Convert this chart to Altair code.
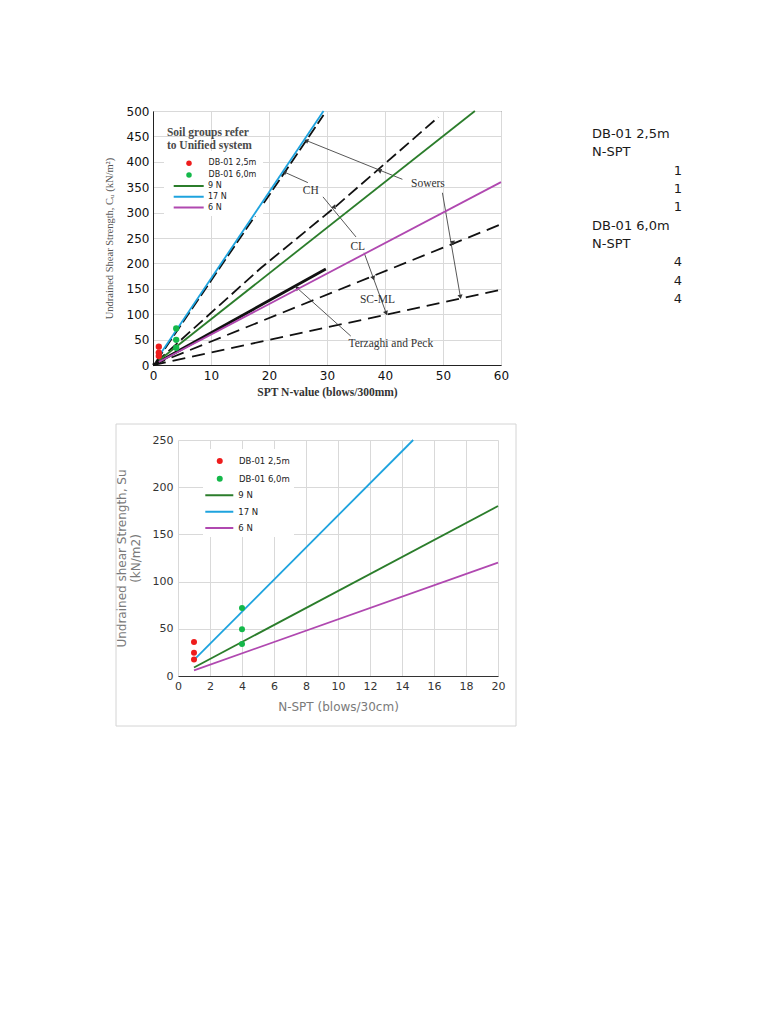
import math
import altair as alt
import pandas as pd

# ---------------- data ----------------
sample_names = ["DB-01 2,5m", "DB-01 6,0m"]
sample_colors = ["#ee1c1c", "#14b84a"]
nspt_25 = [1, 1, 1]
su_25 = [36, 24.5, 17.5]
nspt_60 = [4, 4, 4]
su_60 = [72, 49.5, 34]

series_names = ["9 N", "17 N", "6 N"]
series_colors = ["#2b7d2b", "#1ea3de", "#b048b0"]
# correlation lines: start / end points
top_line_n = [[1, 55.5], [1, 29.4], [1, 60]]
top_line_su = [[9, 500], [17, 500], [6, 360]]
bot_line_n = [[1, 20], [1, 14.7], [1, 20]]
bot_line_su = [[9, 180], [17, 250], [6, 120]]

# scanned Sowers / Terzaghi & Peck reference lines
ref_names = ["CH", "CL", "SC-ML upper", "SC-ML lower"]
ref_n = [[0.5, 29.4], [0.5, 18.6, 31.3, 49.2], [0, 60], [0, 60]]
ref_su = [[6, 492], [5, 191, 310, 488], [0, 277], [0, 148]]
tp_n = [0, 29.8]
tp_su = [0, 189]

# annotation labels
ann_text = ["CH", "CL", "SC-ML", "Sowers", "Terzaghi and Peck"]
ann_n = [27.2, 35.3, 38.7, 47.4, 41.0]
ann_su = [342, 232, 127, 356, 41]
note_lines = ["Soil groups refer", "to Unified system"]
note_n = [2.4, 2.4]
note_su = [457, 431]

# annotation arrows (tail -> head)
arrow_tail_n = [43.0, 26.7, 29.3, 36.4, 49.9, 34.1]
arrow_tail_su = [365.5, 359, 331, 221, 339, 57]
arrow_head_n = [26.4, 22.6, 35.0, 40.2, 53.0, 24.8]
arrow_head_su = [442, 380, 252, 102, 134, 152]
head_arrow = [0, 0, 1, 2, 3, 3, 4, 4, 5]
head_n = [26.4, 39.0, 22.6, 31.3, 38.0, 40.2, 51.7, 53.0, 24.8]
head_su = [442, 383, 380, 310, 171, 102, 240, 134, 152]

# right-hand table
panel_groups = ["DB-01 2,5m", "DB-01 6,0m"]
panel_header = "N-SPT"
panel_values = [nspt_25, nspt_60]

# ---------------- sizes ----------------
TW, TH = 348, 254      # top plot
BW, BH = 320, 236      # bottom plot
TXMAX, TYMAX = 60, 500

# ---------------- tables ----------------
pts = pd.DataFrame({
    "N": nspt_25 + nspt_60,
    "Su": su_25 + su_60,
    "sample": [sample_names[0]] * len(nspt_25) + [sample_names[1]] * len(nspt_60),
})

def line_table(ns, sus):
    rows = []
    for name, nn, ss in zip(series_names, ns, sus):
        for i, (a, b) in enumerate(zip(nn, ss)):
            rows.append({"series": name, "N": a, "Su": b, "o": i})
    return pd.DataFrame(rows)

top_lines = line_table(top_line_n, top_line_su)
bot_lines = line_table(bot_line_n, bot_line_su)

ref_rows = []
for name, nn, ss in zip(ref_names, ref_n, ref_su):
    for i, (a, b) in enumerate(zip(nn, ss)):
        ref_rows.append({"name": name, "N": a, "Su": b, "o": i})
ref_df = pd.DataFrame(ref_rows)
tp_df = pd.DataFrame({"N": tp_n, "Su": tp_su})

ann_df = pd.DataFrame({"t": ann_text, "N": ann_n, "Su": ann_su})
note_df = pd.DataFrame({"t": note_lines, "N": note_n, "Su": note_su})
arrow_df = pd.DataFrame({"N": arrow_tail_n, "Su": arrow_tail_su,
                         "N2": arrow_head_n, "Su2": arrow_head_su})

sx, sy = TW / TXMAX, TH / TYMAX
angles = []
for k in head_arrow:
    dx = (arrow_head_n[k] - arrow_tail_n[k]) * sx
    up = (arrow_head_su[k] - arrow_tail_su[k]) * sy
    angles.append(math.degrees(math.atan2(dx, up)) % 360)
head_df = pd.DataFrame({"N": head_n, "Su": head_su, "ang": angles})

one = pd.DataFrame({"v": [0]})

def anchor(x, y):
    # 1px white layout anchor outside the plot
    return alt.Chart(one).mark_rect(color="white").encode(
        x=alt.value(x), x2=alt.value(x + 1), y=alt.value(y), y2=alt.value(y + 1))

# ---------------- top (scanned chart) ----------------
tx_axis = alt.Axis(values=list(range(0, 61, 10)), title="SPT N-value (blows/300mm)",
                   labelFont="DejaVu Sans", labelFontSize=12, labelColor="#111",
                   labelPadding=5, ticks=False, domainColor="#222", gridColor="#d9d9d9",
                   titleFont="Liberation Serif", titleFontSize=11.5, titleFontWeight="bold",
                   titleColor="#333", titlePadding=5, labelFlush=False, labelOverlap=False)
ty_axis = alt.Axis(values=list(range(0, 501, 50)), title="Undrained Shear Strength, Cᵤ (kN/m²)",
                   labelFont="DejaVu Sans", labelFontSize=12, labelColor="#111",
                   labelPadding=4, ticks=False, domainColor="#222", gridColor="#d9d9d9",
                   titleFont="Liberation Serif", titleFontSize=10.5, titleFontWeight="normal",
                   titleColor="#555", titlePadding=12, labelOverlap=False)

def tx(field="N"):
    return alt.X(f"{field}:Q", scale=alt.Scale(domain=[0, TXMAX], nice=False), axis=tx_axis)

def ty(field="Su"):
    return alt.Y(f"{field}:Q", scale=alt.Scale(domain=[0, TYMAX], nice=False), axis=ty_axis)

ref_layer = alt.Chart(ref_df).mark_line(color="#111", strokeWidth=1.8).encode(
    x=tx(), y=ty(), detail="name:N", order="o:Q",
    strokeDash=alt.StrokeDash("name:N", scale=alt.Scale(domain=ref_names,
                              range=[[12, 4], [12, 5], [13, 7], [13, 7]]), legend=None),
)
tp_layer = alt.Chart(tp_df).mark_line(color="#111", strokeWidth=2.8).encode(x=tx(), y=ty())

top_mask = alt.Chart(one).mark_rect(color="white").encode(
    x=alt.value(11), x2=alt.value(110), y=alt.value(40), y2=alt.value(105))

arrows = alt.Chart(arrow_df).mark_rule(color="#444", strokeWidth=0.9).encode(
    x=tx(), y=ty(), x2="N2:Q", y2="Su2:Q")
heads = alt.Chart(head_df).mark_point(shape="triangle-up", filled=True, size=26,
                                      color="#333", opacity=1).encode(
    x=tx(), y=ty(), angle=alt.Angle("ang:Q", scale=None))
ann = alt.Chart(ann_df).mark_text(font="Liberation Serif", fontSize=11.5, color="#333",
                                  align="center", baseline="middle").encode(
    x=tx(), y=ty(), text="t:N")
note = alt.Chart(note_df).mark_text(font="Liberation Serif", fontSize=11.5, fontWeight="bold",
                                    color="#4a4a4a", align="left", baseline="middle").encode(
    x=tx(), y=ty(), text="t:N")

top_series = alt.Chart(top_lines).mark_line(strokeWidth=1.8).encode(
    x=tx(), y=ty(), order="o:Q",
    stroke=alt.Stroke("series:N", scale=alt.Scale(domain=series_names, range=series_colors),
                      legend=alt.Legend(orient="none", legendX=19.7, legendY=71, title=None,
                                        symbolType="stroke", symbolSize=900, symbolStrokeWidth=2,
                                        clipHeight=8, rowPadding=2.8, padding=0,
                                        labelFontSize=8, labelOffset=3.3, labelColor="#222",
                                        labelFont="DejaVu Sans")))
top_pts = alt.Chart(pts).mark_circle(size=40, opacity=1).encode(
    x=tx(), y=ty(),
    fill=alt.Fill("sample:N", scale=alt.Scale(domain=sample_names, range=sample_colors),
                  legend=alt.Legend(orient="none", legendX=32, legendY=48.3, title=None,
                                    symbolType="circle", symbolSize=30, symbolStrokeWidth=0,
                                    clipHeight=8, rowPadding=3.7, padding=0,
                                    labelFontSize=8, labelOffset=15.6, labelColor="#222",
                                    labelFont="DejaVu Sans")))

top = alt.layer(ref_layer, tp_layer, top_mask, arrows, heads, ann, note,
                top_series, top_pts, anchor(-60, -20), anchor(358, 299)).properties(
    width=TW, height=TH, view=alt.ViewBackground(stroke="#444", strokeWidth=1))

# ---------------- right-hand text table ----------------
prow = []
r = 0
for g, vals in zip(panel_groups, panel_values):
    prow.append({"row": r, "txt": g, "side": "l"}); r += 1
    prow.append({"row": r, "txt": panel_header, "side": "l"}); r += 1
    for v in vals:
        prow.append({"row": r, "txt": str(v), "side": "r"}); r += 1
panel_df = pd.DataFrame(prow)
py = alt.Y("row:Q", scale=alt.Scale(domain=[0, r - 1], range=[23, 188], nice=False, zero=False),
           axis=None)
panel_l = alt.Chart(panel_df).transform_filter(alt.datum.side == "l").mark_text(
    align="left", baseline="middle", font="DejaVu Sans", fontSize=13, color="#1a1a1a").encode(
    x=alt.value(0), y=py, text="txt:N")
panel_r = alt.Chart(panel_df).transform_filter(alt.datum.side == "r").mark_text(
    align="right", baseline="middle", font="DejaVu Sans", fontSize=13, color="#1a1a1a").encode(
    x=alt.value(90), y=py, text="txt:N")
panel = alt.layer(panel_l, panel_r).properties(width=95, height=200)

# ---------------- bottom (spreadsheet chart) ----------------
bx_axis = alt.Axis(values=list(range(0, 21, 2)), title="N-SPT (blows/30cm)",
                   labelFont="DejaVu Sans", labelFontSize=11, labelColor="#333",
                   labelPadding=4, ticks=False, domainColor="#333", gridColor="#d9d9d9",
                   titleFont="DejaVu Sans", titleFontSize=12, titleFontWeight="normal",
                   titleColor="#7a7a7a", titlePadding=10, labelFlush=False, labelOverlap=False)
by_axis = alt.Axis(values=list(range(0, 251, 50)),
                   title=["Undrained shear Strength, Su", "(kN/m2)"],
                   labelFont="DejaVu Sans", labelFontSize=11, labelColor="#333",
                   labelPadding=5, ticks=False, domain=False, gridColor="#d9d9d9",
                   titleFont="DejaVu Sans", titleFontSize=12, titleFontWeight="normal",
                   titleColor="#7a7a7a", titlePadding=10, labelOverlap=False)

def bx():
    return alt.X("N:Q", scale=alt.Scale(domain=[0, 20], nice=False), axis=bx_axis)

def by():
    return alt.Y("Su:Q", scale=alt.Scale(domain=[0, 250], nice=False), axis=by_axis)

frame = alt.Chart(one).mark_rect(fillOpacity=0, stroke="#d4d4d4", strokeWidth=1).encode(
    x=alt.value(-62), x2=alt.value(338), y=alt.value(-16), y2=alt.value(286))
bot_mask = alt.Chart(one).mark_rect(color="white").encode(
    x=alt.value(25), x2=alt.value(116), y=alt.value(9), y2=alt.value(97))
bot_series = alt.Chart(bot_lines).mark_line(strokeWidth=1.8).encode(
    x=bx(), y=by(), order="o:Q",
    stroke=alt.Stroke("series:N", scale=alt.Scale(domain=series_names, range=series_colors),
                      legend=alt.Legend(orient="none", legendX=26.3, legendY=50.3, title=None,
                                        symbolType="stroke", symbolSize=784, symbolStrokeWidth=2,
                                        clipHeight=10, rowPadding=6.4, padding=0,
                                        labelFontSize=8.5, labelOffset=4, labelColor="#222",
                                        labelFont="DejaVu Sans")))
bot_pts = alt.Chart(pts).mark_circle(size=36, opacity=1).encode(
    x=bx(), y=by(),
    fill=alt.Fill("sample:N", scale=alt.Scale(domain=sample_names, range=sample_colors),
                  legend=alt.Legend(orient="none", legendX=37.5, legendY=16, title=None,
                                    symbolType="circle", symbolSize=36, symbolStrokeWidth=0,
                                    clipHeight=10, rowPadding=7.7, padding=0,
                                    labelFontSize=8.5, labelOffset=15, labelColor="#222",
                                    labelFont="DejaVu Sans")))
bottom = alt.layer(frame, bot_mask, bot_series, bot_pts, anchor(-85, -20)).properties(
    width=BW, height=BH)

spacer = alt.layer(anchor(0, 0)).properties(width=1, height=1)

row1 = alt.hconcat(top, panel, spacing=79).resolve_scale(
    fill="independent", stroke="independent")
# bottom plot sits 25px right of the top plot: 1 (spacer) + spacing + 85 (left extent) = 25
row2 = alt.hconcat(spacer, bottom, spacing=-61).resolve_scale(
    fill="independent", stroke="independent")

chart = alt.vconcat(row1, row2, spacing=8).resolve_scale(
    fill="independent", stroke="independent").resolve_legend(
    fill="independent", stroke="independent").properties(
    padding={"left": 84, "top": 82, "right": 5, "bottom": 5}
).configure(font="DejaVu Sans").configure_view(stroke=None)

chart.save("out.html", embed_options={"renderer": "svg", "actions": False})
